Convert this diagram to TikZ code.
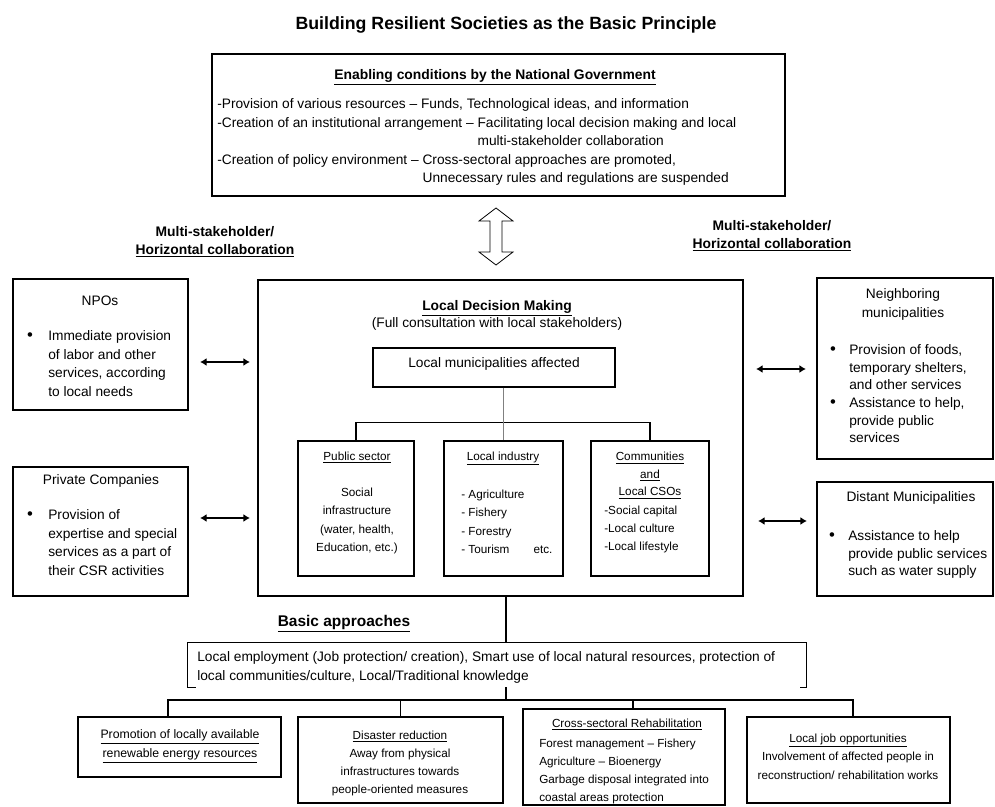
\documentclass[tikz,border=0pt]{standalone}
\usepackage{fontspec}
\setmainfont{Liberation Sans}
\usetikzlibrary{arrows.meta,calc,fit}
\newcommand\fbody{\fontsize{10.3}{13.9}\selectfont}
\newcommand\fbodyb{\fontsize{10.4}{13.5}\selectfont\bfseries}
\newcommand\fsmall{\fontsize{8.8}{13.9}\selectfont}
\newcommand\fbig{\fontsize{13.3}{15}\selectfont\bfseries}
\newcommand\fmid{\fontsize{11.6}{14}\selectfont\bfseries}
\begin{document}
\begin{tikzpicture}[x=0.75pt,y=-0.75pt,
  box/.style={draw, line width=0.9pt, inner sep=0pt},
  body/.style={inner sep=0pt, font=\fbody},
  bodyb/.style={inner sep=0pt, font=\fbodyb},
  small/.style={inner sep=0pt, font=\fsmall},
  bul/.style={inner sep=0pt, font=\fontsize{12.5}{13}\selectfont},
  ln/.style={line width=0.9pt},
  dbl/.style={line width=1.6pt, {Latex[length=5pt,width=6pt]}-{Latex[length=5pt,width=6pt]}},
  hollow/.style={line width=0.6pt, fill=white}]
\useasboundingbox (0,0) rectangle (995,806);

% title
\node[inner sep=0pt, font=\fbig, anchor=base] (title) at (506,29.5) {Building Resilient Societies as the Basic Principle};

% national government box
\node[box, fit={(212,54) (785,196)}] (natl) {};
\node[bodyb, anchor=base] (natlh) at (495,79.5) {\underline{Enabling conditions by the National Government}};
\node[body, anchor=base west, align=left] (natlt) at (217,182.8) {-Provision of various resources -- Funds, Technological ideas, and information\\
-Creation of an institutional arrangement -- Facilitating local decision making and local\\
\phantom{-Creation of an institutional arrangement -- }multi-stakeholder collaboration\\
-Creation of policy environment -- Cross-sectoral approaches are promoted,\\
\phantom{-Creation of policy environment -- }Unnecessary rules and regulations are suspended};

% hollow double arrow
\coordinate (da) at (496,236.5);
\draw[hollow] (496,208) -- (513,221) -- (502,221) -- (502,252) -- (513,252) -- (496,265)
  -- (479,252) -- (490,252) -- (490,221) -- (479,221) -- cycle;

% multi-stakeholder labels
\node[bodyb, anchor=base, align=center] (msl) at (215,254.5) {Multi-stakeholder/\\\underline{Horizontal collaboration}};
\node[bodyb, anchor=base, align=center] (msr) at (772,248.5) {Multi-stakeholder/\\\underline{Horizontal collaboration}};

% NPOs
\node[box, fit={(13,279) (188,410)}] (npo) {};
\node[body, anchor=base] (npoh) at (100,305.7) {NPOs};
\node[bul, anchor=base] (npob) at (30,340.7) {\textbullet};
\node[body, anchor=base west, align=left] (npot) at (48,396.3) {Immediate provision\\of labor and other\\services, according\\to local needs};

% Private companies
\node[box, fit={(13,467) (188,596)}] (pc) {};
\node[body, anchor=base] (pch) at (101,484.7) {Private Companies};
\node[bul, anchor=base] (pcb) at (30,519.7) {\textbullet};
\node[body, anchor=base west, align=left] (pct) at (48,575.3) {Provision of\\expertise and special\\services as a part of\\their CSR activities};

% Neighboring municipalities
\node[box, fit={(817,278) (993,459)}] (nm) {};
\node[body, anchor=base, align=center] (nmh) at (903,317.2) {Neighboring\\municipalities};
\node[bul, anchor=base] (nmb1) at (833,354.7) {\textbullet};
\node[body, anchor=base west, align=left, font=\fontsize{10.3}{13.2}\selectfont] (nmt1) at (849,389.9) {Provision of foods,\\temporary shelters,\\and other services};
\node[bul, anchor=base] (nmb2) at (833,407.7) {\textbullet};
\node[body, anchor=base west, align=left, font=\fontsize{10.3}{13.2}\selectfont] (nmt2) at (849,442.9) {Assistance to help,\\provide public\\services};

% Distant municipalities
\node[box, fit={(817,482) (993,596)}] (dm) {};
\node[body, anchor=base] (dmh) at (911,501.7) {Distant Municipalities};
\node[bul, anchor=base] (dmb) at (832,540.7) {\textbullet};
\node[body, anchor=base west, align=left, font=\fontsize{10.3}{13.2}\selectfont] (dmt) at (848,575.9) {Assistance to help\\provide public services\\such as water supply};

% horizontal arrows
\coordinate (a1l) at (200,362); \coordinate (a1r) at (250,362);
\coordinate (a2l) at (200,518); \coordinate (a2r) at (250,518);
\coordinate (a3l) at (756,369); \coordinate (a3r) at (806,369);
\coordinate (a4l) at (758,521); \coordinate (a4r) at (807,521);
\draw[dbl] (a1l) -- (a1r);
\draw[dbl] (a2l) -- (a2r);
\draw[dbl] (a3l) -- (a3r);
\draw[dbl] (a4l) -- (a4r);

% Local decision making
\node[box, fit={(258,280) (743,596)}] (ldm) {};
\node[bodyb, anchor=base] (ldmh) at (497,310) {\underline{Local Decision Making}};
\node[body, anchor=base] (ldms) at (497,327.7) {(Full consultation with local stakeholders)};
\node[box, fit={(373,348) (615,387)}] (lma) {};
\node[body] (lmat) at (494,364) {Local municipalities affected};
\node[box, fit={(298,441) (414,576)}] (ps) {};
\node[box, fit={(444,441) (563,576)}] (li) {};
\node[box, fit={(591,441) (709,576)}] (cs) {};
\draw[ln] (ps.north) -- ++(0,-18) -| (cs.north);
\draw[ln, gray] (li.north |- lma.south) -- (li.north);

\node[small, anchor=base] (psh) at (357,460) {\underline{Public sector}};
\node[small, anchor=base, align=center] (pst) at (357,551.6) {Social\\infrastructure\\(water, health,\\Education, etc.)};
\node[small, anchor=base] (lih) at (503,460) {\underline{Local industry}};
\node[small, anchor=base west, align=left] (lit) at (461,553.6) {- Agriculture\\- Fishery\\- Forestry\\- Tourism\hspace{18pt}etc.};
\node[small, anchor=base, align=center, font=\fontsize{8.8}{13.1}\selectfont] (csh) at (650,495.9) {\underline{Communities}\\\underline{and}\\\underline{Local CSOs}};
\node[small, anchor=base west, align=left, font=\fontsize{8.8}{13.5}\selectfont] (cst) at (604,550) {-Social capital\\-Local culture\\-Local lifestyle};

% Basic approaches
\node[inner sep=0pt, font=\fmid, anchor=base] (bah) at (344,626) {\underline{Basic approaches}};
\node[inner sep=0pt, fit={(188,643) (806,687)}] (ba) {};
\draw[ln] ($(ba.south west)+(8,0)$) -- (ba.south west) -- (ba.north west) -- (ba.north east) -- (ba.south east) -- ($(ba.south east)+(-6,0)$);
\node[body, anchor=base west, align=left, font=\fontsize{10.3}{14.2}\selectfont] (bat) at (197,680.4) {Local employment (Job protection/ creation), Smart use of local natural resources, protection of\\local communities/culture, Local/Traditional knowledge};
\draw[ln] ($(ldm.south)+(5.5,0)$) -- ($(ba.north)+(9,0)$);

% bottom boxes
\node[box, fit={(78,717) (281,777)}] (b1) {};
\node[box, fit={(298,717) (503,803)}] (b2) {};
\node[box, fit={(523,709) (725,805)}] (b3) {};
\node[box, fit={(747,717) (950,803)}] (b4) {};
\coordinate (bj) at (506,700);
\draw[ln] ($(ba.south)+(9,0)$) -- (bj);
\coordinate (b1c) at ($(b1.north)+(-11.5,0)$);
\coordinate (b4c) at ($(b4.north)+(4.5,0)$);
\coordinate (b3c) at ($(b3.north)+(9,0)$);
\draw[ln] (b1c) |- (bj) -| (b4c);
\draw[ln] (b2.north) -- (b2.north |- bj);
\draw[ln] (b3c) -- (b3c |- bj);

\node[small, anchor=base, align=center, font=\fontsize{9.2}{14.2}\selectfont] (b1t) at (180,757.9) {\underline{Promotion of locally available}\\\underline{renewable energy resources}};
\node[small, anchor=base, align=center, font=\fontsize{8.8}{13.7}\selectfont] (b2t) at (400,793.8) {\underline{Disaster reduction}\\Away from physical\\infrastructures towards\\people-oriented measures};
\node[small, anchor=base] (b3h) at (627,727) {\underline{Cross-sectoral Rehabilitation}};
\node[small, anchor=base west, align=left, font=\fontsize{8.8}{13.7}\selectfont] (b3t) at (539,801.8) {Forest management -- Fishery\\Agriculture -- Bioenergy\\Garbage disposal integrated into\\coastal areas protection};
\node[small, anchor=base, align=center, font=\fontsize{8.8}{14.2}\selectfont] (b4t) at (848,779.9) {\underline{Local job opportunities}\\Involvement of affected people in\\reconstruction/ rehabilitation works};
\end{tikzpicture}
\end{document}
